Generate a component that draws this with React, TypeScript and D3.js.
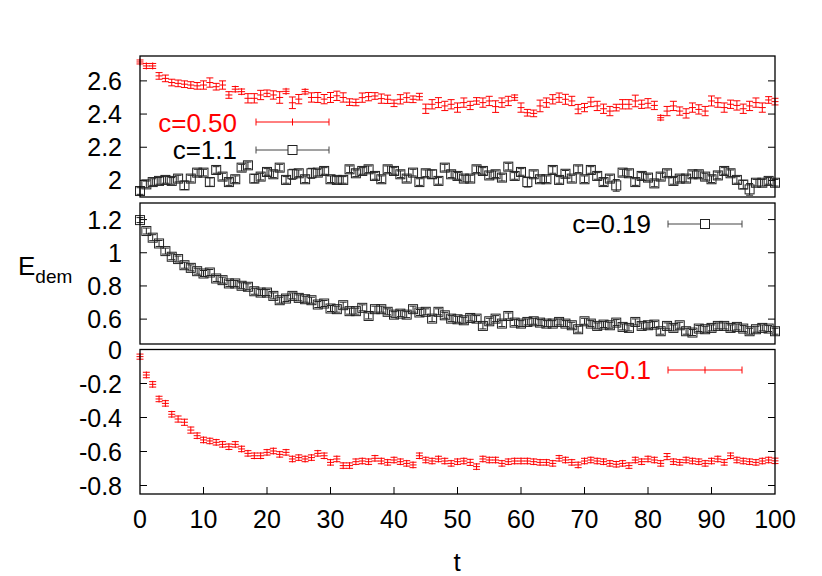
import React from 'react';
import { useRef, useEffect } from 'react';
import * as d3 from 'd3';

// E_dem(t) for four values of c, t = 0..100
const c050 = [
  2.714, 2.69, 2.69, 2.63, 2.615, 2.59, 2.585, 2.58, 2.575, 2.57,
  2.575, 2.59, 2.565, 2.575, 2.515, 2.55, 2.535, 2.495, 2.495, 2.515,
  2.525, 2.515, 2.5, 2.537, 2.468, 2.49, 2.535, 2.5, 2.5, 2.49,
  2.5, 2.51, 2.5, 2.472, 2.47, 2.499, 2.505, 2.509, 2.493, 2.489,
  2.465, 2.489, 2.499, 2.489, 2.505, 2.432, 2.459, 2.469, 2.449, 2.459,
  2.439, 2.469, 2.452, 2.479, 2.469, 2.479, 2.445, 2.469, 2.479, 2.499,
  2.439, 2.408, 2.404, 2.449, 2.469, 2.489, 2.499, 2.489, 2.479, 2.43,
  2.439, 2.473, 2.449, 2.432, 2.418, 2.439, 2.459, 2.459, 2.479, 2.459,
  2.465, 2.452, 2.378, 2.418, 2.449, 2.418, 2.404, 2.439, 2.428, 2.418,
  2.479, 2.469, 2.439, 2.459, 2.452, 2.432, 2.449, 2.469, 2.439, 2.485,
  2.475,
];
const c050Err = [
  0.012, 0.015, 0.015, 0.02, 0.02, 0.02, 0.02, 0.02, 0.02, 0.02,
  0.025, 0.028, 0.02, 0.025, 0.02, 0.016, 0.016, 0.028, 0.028, 0.028,
  0.02, 0.025, 0.035, 0.014, 0.035, 0.028, 0.014, 0.028, 0.03, 0.028,
  0.03, 0.028, 0.028, 0.02, 0.02, 0.028, 0.025, 0.02, 0.028, 0.025,
  0.02, 0.028, 0.028, 0.02, 0.02, 0.028, 0.028, 0.03, 0.028, 0.028,
  0.028, 0.028, 0.025, 0.02, 0.028, 0.028, 0.035, 0.028, 0.028, 0.016,
  0.028, 0.02, 0.02, 0.035, 0.028, 0.028, 0.028, 0.03, 0.028, 0.028,
  0.025, 0.028, 0.028, 0.028, 0.028, 0.02, 0.028, 0.028, 0.035, 0.025,
  0.028, 0.025, 0.014, 0.028, 0.028, 0.025, 0.028, 0.028, 0.028, 0.028,
  0.03, 0.028, 0.028, 0.025, 0.028, 0.028, 0.028, 0.028, 0.028, 0.02,
  0.02,
];

const c11 = [
  1.936, 1.976, 1.99, 1.997, 2.003, 1.997, 2.011, 1.97, 2.011, 2.047,
  2.047, 1.99, 2.063, 2.023, 1.99, 2.007, 2.077, 2.091, 2.011, 2.023,
  2.051, 2.037, 2.077, 2.003, 2.037, 2.043, 2.007, 2.043, 2.047, 2.057,
  2.007, 2.003, 2.003, 2.067, 2.043, 2.057, 2.067, 2.027, 2.007, 2.067,
  2.057, 2.037, 2.011, 2.047, 1.99, 2.043, 2.037, 1.997, 2.077, 2.037,
  2.027, 2.011, 2.011, 2.067, 2.057, 2.03, 2.037, 2.017, 2.083, 2.027,
  2.051, 1.99, 2.037, 2.007, 2.007, 2.063, 2.003, 2.04, 2.011, 2.067,
  2.007, 2.063, 2.027, 1.99, 2.011, 1.97, 2.047, 2.043, 1.99, 2.027,
  2.017, 1.982, 2.023, 2.043, 1.997, 2.011, 2.011, 2.037, 2.037, 2.023,
  2.007, 2.03, 2.057, 2.043, 2.003, 1.975, 1.946, 1.986, 1.986, 1.997,
  1.986,
];
const c11Err = [
  0.02, 0.02, 0.02, 0.02, 0.02, 0.02, 0.02, 0.025, 0.02, 0.02,
  0.02, 0.025, 0.02, 0.02, 0.02, 0.02, 0.02, 0.02, 0.025, 0.02,
  0.02, 0.02, 0.02, 0.02, 0.03, 0.02, 0.02, 0.03, 0.02, 0.02,
  0.02, 0.02, 0.02, 0.02, 0.02, 0.02, 0.02, 0.02, 0.02, 0.02,
  0.02, 0.02, 0.02, 0.02, 0.02, 0.02, 0.025, 0.02, 0.02, 0.02,
  0.02, 0.02, 0.02, 0.02, 0.02, 0.02, 0.02, 0.02, 0.02, 0.02,
  0.02, 0.03, 0.02, 0.02, 0.02, 0.02, 0.02, 0.02, 0.02, 0.02,
  0.02, 0.02, 0.02, 0.02, 0.02, 0.035, 0.02, 0.02, 0.02, 0.02,
  0.02, 0.02, 0.02, 0.02, 0.02, 0.02, 0.02, 0.02, 0.02, 0.02,
  0.02, 0.02, 0.02, 0.02, 0.02, 0.025, 0.035, 0.02, 0.02, 0.02,
  0.02,
];

const c019 = [
  1.197, 1.131, 1.091, 1.056, 1.01, 0.976, 0.962, 0.925, 0.909, 0.889,
  0.875, 0.881, 0.845, 0.835, 0.815, 0.815, 0.801, 0.795, 0.768, 0.76,
  0.76, 0.74, 0.714, 0.724, 0.74, 0.728, 0.72, 0.714, 0.688, 0.694,
  0.664, 0.66, 0.684, 0.648, 0.648, 0.668, 0.619, 0.66, 0.66, 0.644,
  0.627, 0.633, 0.627, 0.66, 0.64, 0.644, 0.603, 0.644, 0.623, 0.603,
  0.599, 0.593, 0.607, 0.603, 0.559, 0.587, 0.603, 0.573, 0.619, 0.579,
  0.573, 0.583, 0.587, 0.579, 0.573, 0.573, 0.583, 0.573, 0.563, 0.539,
  0.587, 0.573, 0.559, 0.567, 0.563, 0.579, 0.553, 0.547, 0.583, 0.559,
  0.563, 0.567, 0.527, 0.559, 0.547, 0.563, 0.527, 0.519, 0.543, 0.539,
  0.547, 0.559, 0.559, 0.547, 0.553, 0.543, 0.527, 0.539, 0.547, 0.543,
  0.527,
];
const c019Err = [
  0.015, 0.018, 0.018, 0.018, 0.018, 0.018, 0.018, 0.018, 0.018, 0.018,
  0.018, 0.018, 0.018, 0.018, 0.018, 0.018, 0.018, 0.018, 0.018, 0.018,
  0.018, 0.018, 0.018, 0.018, 0.018, 0.018, 0.018, 0.018, 0.018, 0.018,
  0.018, 0.018, 0.018, 0.018, 0.018, 0.018, 0.018, 0.018, 0.018, 0.018,
  0.018, 0.018, 0.018, 0.018, 0.018, 0.018, 0.018, 0.018, 0.018, 0.018,
  0.018, 0.018, 0.018, 0.018, 0.018, 0.018, 0.018, 0.018, 0.018, 0.018,
  0.018, 0.018, 0.018, 0.018, 0.018, 0.018, 0.018, 0.018, 0.018, 0.018,
  0.018, 0.018, 0.018, 0.018, 0.018, 0.018, 0.018, 0.018, 0.018, 0.018,
  0.018, 0.018, 0.018, 0.018, 0.018, 0.018, 0.018, 0.018, 0.018, 0.018,
  0.018, 0.018, 0.018, 0.018, 0.018, 0.018, 0.018, 0.018, 0.018, 0.018,
  0.018,
];

const c01 = [
  -0.042, -0.15, -0.205, -0.291, -0.317, -0.381, -0.409, -0.428, -0.474, -0.507,
  -0.532, -0.538, -0.546, -0.558, -0.572, -0.558, -0.585, -0.611, -0.625, -0.625,
  -0.605, -0.597, -0.617, -0.605, -0.644, -0.636, -0.644, -0.636, -0.611, -0.625,
  -0.664, -0.644, -0.683, -0.683, -0.66, -0.656, -0.66, -0.64, -0.656, -0.664,
  -0.65, -0.66, -0.67, -0.679, -0.625, -0.65, -0.656, -0.644, -0.656, -0.67,
  -0.66, -0.656, -0.664, -0.689, -0.644, -0.65, -0.65, -0.67, -0.66, -0.656,
  -0.656, -0.656, -0.66, -0.664, -0.664, -0.67, -0.64, -0.65, -0.664, -0.679,
  -0.656, -0.65, -0.656, -0.66, -0.67, -0.675, -0.67, -0.683, -0.65, -0.66,
  -0.644, -0.65, -0.67, -0.63, -0.66, -0.664, -0.65, -0.656, -0.66, -0.67,
  -0.656, -0.644, -0.664, -0.625, -0.65, -0.656, -0.66, -0.664, -0.656, -0.65,
  -0.655,
];
const c01Err = [
  0.015, 0.016, 0.016, 0.016, 0.016, 0.016, 0.018, 0.018, 0.018, 0.016,
  0.016, 0.016, 0.016, 0.016, 0.016, 0.016, 0.016, 0.016, 0.016, 0.016,
  0.016, 0.016, 0.016, 0.016, 0.016, 0.016, 0.016, 0.016, 0.016, 0.016,
  0.016, 0.016, 0.016, 0.016, 0.016, 0.016, 0.016, 0.016, 0.016, 0.016,
  0.016, 0.016, 0.016, 0.016, 0.016, 0.016, 0.016, 0.016, 0.016, 0.016,
  0.016, 0.016, 0.018, 0.016, 0.016, 0.016, 0.016, 0.016, 0.016, 0.016,
  0.016, 0.016, 0.016, 0.016, 0.016, 0.016, 0.016, 0.016, 0.016, 0.016,
  0.016, 0.016, 0.016, 0.016, 0.016, 0.016, 0.016, 0.016, 0.016, 0.016,
  0.016, 0.016, 0.016, 0.018, 0.016, 0.016, 0.016, 0.016, 0.016, 0.016,
  0.016, 0.016, 0.016, 0.016, 0.016, 0.016, 0.016, 0.016, 0.016, 0.016,
  0.016,
];

const xTicks = [0, 10, 20, 30, 40, 50, 60, 70, 80, 90, 100];
const yTicksTop = [2, 2.2, 2.4, 2.6];
const yTicksMid = [0.6, 0.8, 1, 1.2];
const yTicksBot = [-0.8, -0.6, -0.4, -0.2, 0];

const RED = '#ff0000';
const FONT = '"Liberation Sans", Arial, Helvetica, sans-serif';

export default function App() {
  const svgRef = useRef(null);

  useEffect(() => {
    const W = 822;
    const H = 576;
    const svg = d3.select(svgRef.current).attr('width', W).attr('height', H);
    svg.selectAll('*').remove();

    const left = 140;
    const right = 775;
    const x = d3.scaleLinear().domain([0, 100]).range([left, right]);

    const panels = [
      { top: 56, bottom: 197, domain: [1.9, 2.75], ticks: yTicksTop },
      { top: 203, bottom: 344, domain: [0.45, 1.3], ticks: yTicksMid },
      { top: 349.5, bottom: 494, domain: [-0.85, 0], ticks: yTicksBot },
    ];
    const ys = panels.map((p) =>
      d3.scaleLinear().domain(p.domain).range([p.bottom, p.top])
    );

    // frames + y ticks
    panels.forEach((p, k) => {
      const y = ys[k];
      const g = svg.append('g');
      p.ticks.forEach((v) => {
        const yy = y(v);
        if (Math.abs(yy - p.top) > 1) {
          g.append('line').attr('x1', left).attr('x2', left + 7).attr('y1', yy).attr('y2', yy)
            .attr('stroke', '#000').attr('stroke-width', 1);
          g.append('line').attr('x1', right - 7).attr('x2', right).attr('y1', yy).attr('y2', yy)
            .attr('stroke', '#000').attr('stroke-width', 1);
        }
        g.append('text')
          .attr('x', 122)
          .attr('y', yy)
          .attr('dy', '0.36em')
          .attr('text-anchor', 'end')
          .style('font-family', FONT)
          .style('font-size', '25px')
          .text(String(v));
      });
    });

    // x ticks on bottom panel
    const bp = panels[2];
    xTicks.forEach((v) => {
      if (v > 0 && v < 100) {
        svg.append('line').attr('x1', x(v)).attr('x2', x(v)).attr('y1', bp.bottom).attr('y2', bp.bottom - 7)
          .attr('stroke', '#000').attr('stroke-width', 1);
      }
      svg.append('text')
        .attr('x', x(v))
        .attr('y', 528)
        .attr('text-anchor', 'middle')
        .style('font-family', FONT)
        .style('font-size', '25px')
        .text(String(v));
    });

    const drawPlus = (g, px, py, lo, hi, color) => {
      g.append('line').attr('x1', px).attr('x2', px).attr('y1', Math.min(lo, py - 3.5)).attr('y2', Math.max(hi, py + 3.5))
        .attr('stroke', color);
      g.append('line').attr('x1', px - 3.5).attr('x2', px + 3.5).attr('y1', lo).attr('y2', lo).attr('stroke', color);
      g.append('line').attr('x1', px - 3.5).attr('x2', px + 3.5).attr('y1', hi).attr('y2', hi).attr('stroke', color);
      g.append('line').attr('x1', px - 3.5).attr('x2', px + 3.5).attr('y1', py).attr('y2', py).attr('stroke', color);
    };

    const drawSquare = (g, px, py, lo, hi) => {
      g.append('line').attr('x1', px).attr('x2', px).attr('y1', lo).attr('y2', hi).attr('stroke', '#222');
      g.append('line').attr('x1', px - 3.5).attr('x2', px + 3.5).attr('y1', lo).attr('y2', lo).attr('stroke', '#222');
      g.append('line').attr('x1', px - 3.5).attr('x2', px + 3.5).attr('y1', hi).attr('y2', hi).attr('stroke', '#222');
      g.append('rect').attr('x', px - 4.5).attr('y', py - 4.5).attr('width', 9).attr('height', 9)
        .attr('fill', 'none').attr('stroke', '#222').attr('stroke-width', 1);
    };

    const series = [
      { vals: c050, err: c050Err, panel: 0, kind: 'plus' },
      { vals: c11, err: c11Err, panel: 0, kind: 'square' },
      { vals: c019, err: c019Err, panel: 1, kind: 'square' },
      { vals: c01, err: c01Err, panel: 2, kind: 'plus' },
    ];
    series.forEach((s) => {
      const y = ys[s.panel];
      const g = svg.append('g').attr('stroke-width', 1);
      s.vals.forEach((v, i) => {
        const px = x(i);
        const py = y(v);
        const lo = y(v + s.err[i]);
        const hi = y(v - s.err[i]);
        if (s.kind === 'plus') drawPlus(g, px, py, lo, hi, RED);
        else drawSquare(g, px, py, lo, hi);
      });
    });

    // legends
    const legend = [
      { label: 'c=0.50', color: RED, tx: 237, ty: 132, ly: 122, x1: 256, x2: 329, kind: 'plus' },
      { label: 'c=1.1', color: '#000', tx: 237, ty: 159, ly: 150, x1: 256, x2: 329, kind: 'square' },
      { label: 'c=0.19', color: '#000', tx: 651, ty: 233, ly: 224, x1: 668, x2: 742, kind: 'square' },
      { label: 'c=0.1', color: RED, tx: 651, ty: 379, ly: 370, x1: 668, x2: 742, kind: 'plus' },
    ];
    legend.forEach((l) => {
      svg.append('text')
        .attr('x', l.tx)
        .attr('y', l.ty)
        .attr('text-anchor', 'end')
        .style('font-family', FONT)
        .style('font-size', '26px')
        .style('fill', l.color)
        .text(l.label);
      const lc = l.kind === 'plus' ? RED : '#444';
      const cx = (l.x1 + l.x2) / 2;
      svg.append('line').attr('x1', l.x1).attr('x2', l.x2).attr('y1', l.ly).attr('y2', l.ly).attr('stroke', lc);
      svg.append('line').attr('x1', l.x1).attr('x2', l.x1).attr('y1', l.ly - 3.5).attr('y2', l.ly + 3.5).attr('stroke', lc);
      svg.append('line').attr('x1', l.x2).attr('x2', l.x2).attr('y1', l.ly - 3.5).attr('y2', l.ly + 3.5).attr('stroke', lc);
      if (l.kind === 'plus') {
        svg.append('line').attr('x1', cx).attr('x2', cx).attr('y1', l.ly - 3.5).attr('y2', l.ly + 3.5).attr('stroke', lc);
      } else {
        svg.append('rect').attr('x', cx - 4.5).attr('y', l.ly - 4.5).attr('width', 9).attr('height', 9)
          .attr('fill', '#fff').attr('stroke', '#222');
      }
    });

    // frames on top
    panels.forEach((p) => {
      svg.append('rect')
        .attr('x', left)
        .attr('y', p.top)
        .attr('width', right - left)
        .attr('height', p.bottom - p.top)
        .attr('fill', 'none')
        .attr('stroke', '#000')
        .attr('stroke-width', 1.3);
    });

    // axis titles
    const et = svg.append('text')
      .attr('x', 18)
      .attr('y', 275)
      .style('font-family', FONT)
      .style('font-size', '26px');
    et.append('tspan').text('E');
    et.append('tspan').attr('dy', 8).style('font-size', '19px').text('dem');

    svg.append('text')
      .attr('x', 457)
      .attr('y', 571)
      .attr('text-anchor', 'middle')
      .style('font-family', FONT)
      .style('font-size', '26px')
      .text('t');
  }, []);

  return (
    <svg
      ref={svgRef}
      style={{ position: 'absolute', left: 0, top: 0, display: 'block', background: '#fff' }}
    ></svg>
  );
}
